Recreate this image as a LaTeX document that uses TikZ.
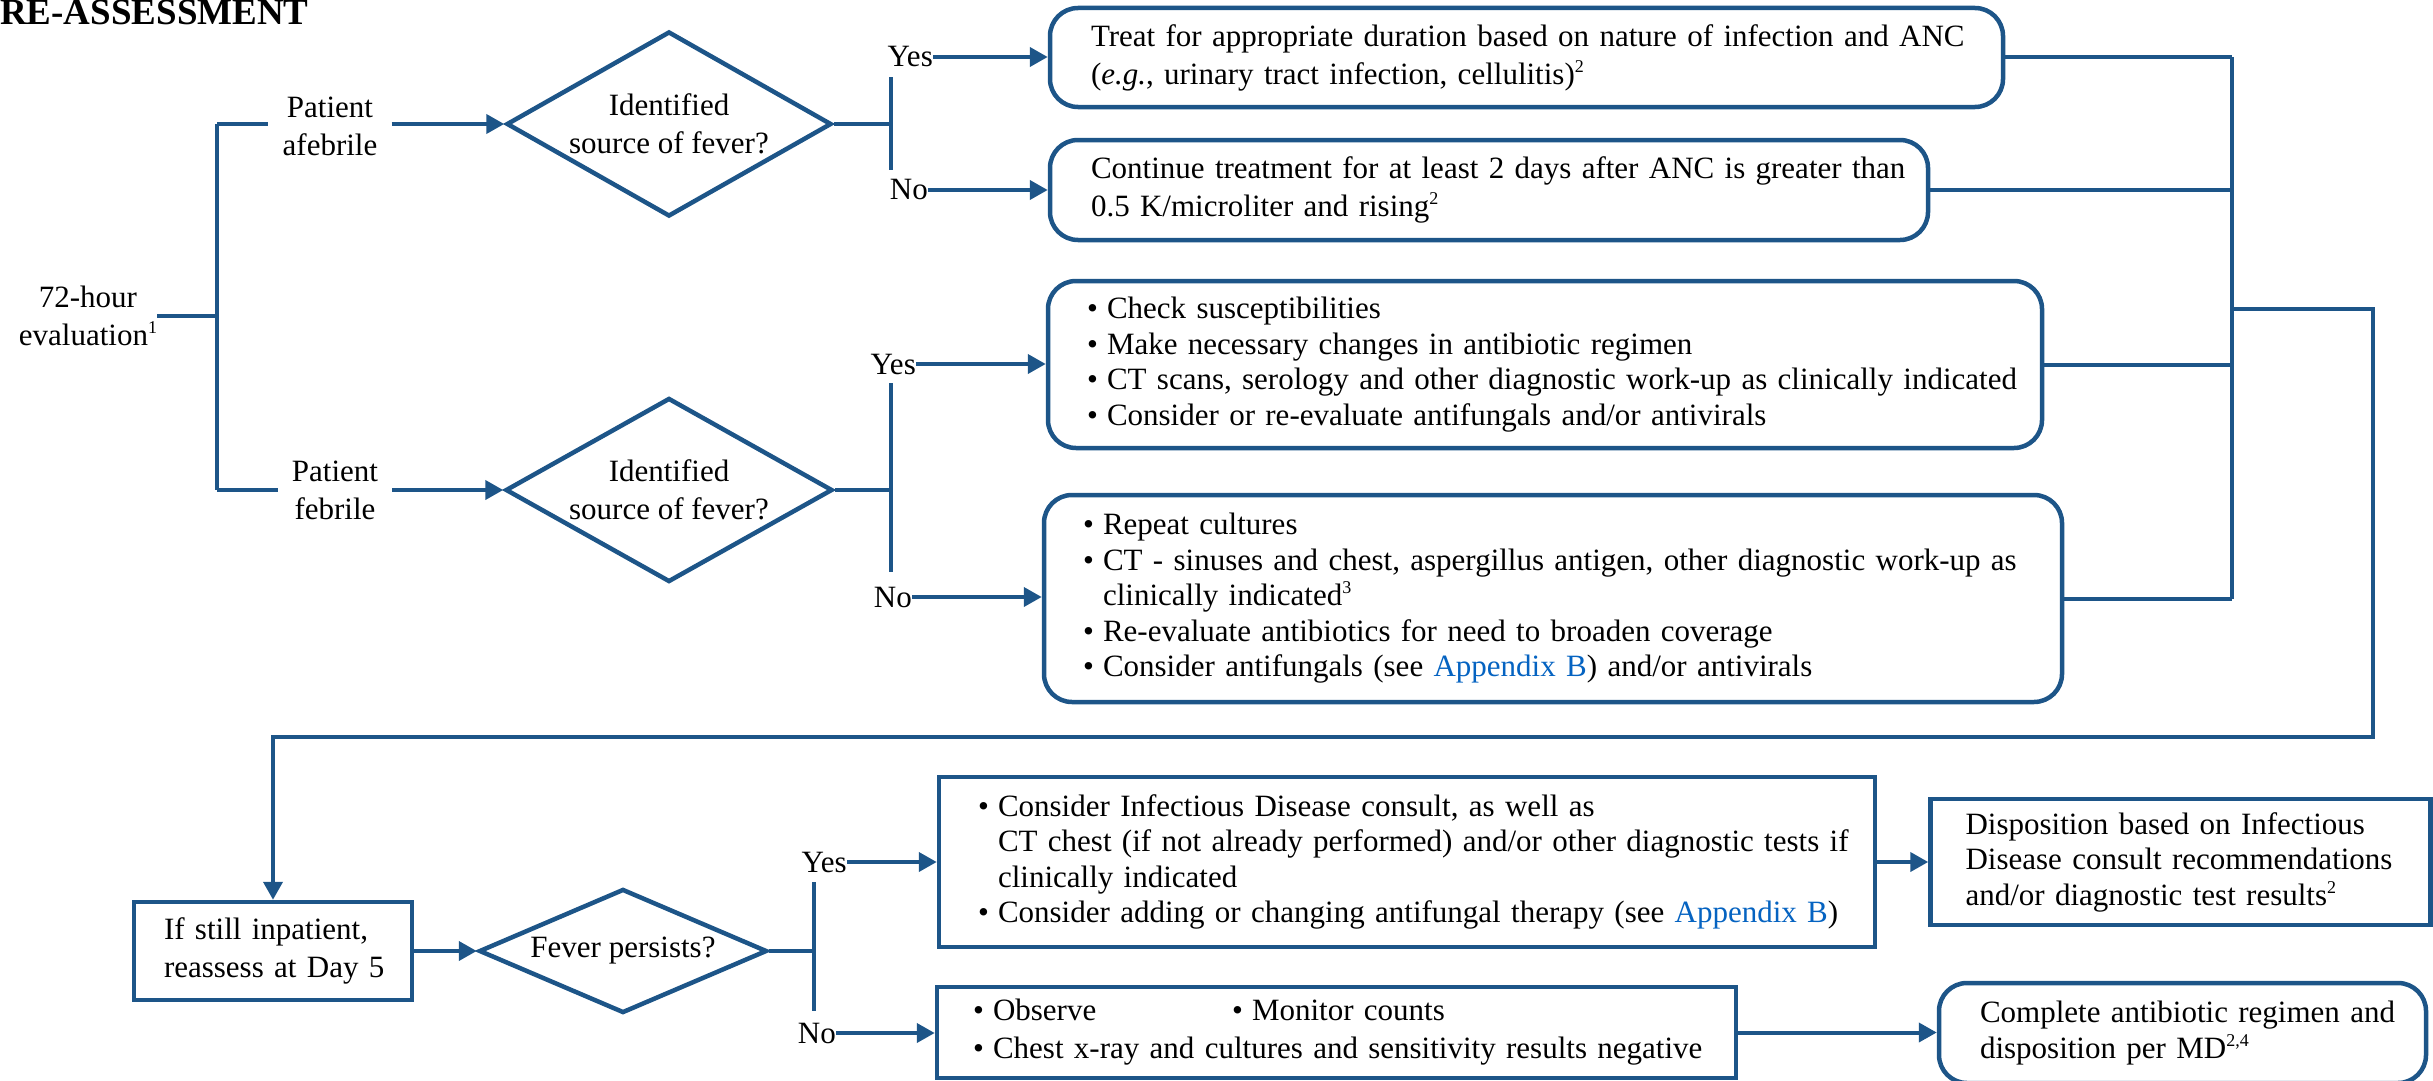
\documentclass[tikz,border=0pt]{standalone}
\usepackage{fontspec}
\setmainfont{Liberation Serif}
\usetikzlibrary{arrows.meta,positioning,shapes.geometric}
\definecolor{FlowBlue}{HTML}{1D5588}
\definecolor{LinkBlue}{HTML}{0563C1}
\newcommand{\bodyfont}{\fontsize{31}{38}\selectfont}
\newcommand{\listfont}{\fontsize{31}{35.5}\selectfont}
\newcommand{\bul}{\makebox[20pt][l]{\textbullet}}
\newcommand{\indnt}{\hspace*{20pt}}
\newcommand{\appx}{{\color{LinkBlue}Appendix B}}
\newcommand{\note}[1]{\raisebox{12pt}{\fontsize{18}{18}\selectfont #1}}

\begin{document}
\begin{tikzpicture}[x=1pt,y=-1pt,
  wire/.style={draw=FlowBlue,line width=4pt},
  arr/.style={wire,-{Triangle[length=18pt,width=19pt]}},
  roundcard/.style={draw=FlowBlue,line width=4.5pt,rounded corners=28pt,inner xsep=0pt,inner ysep=0pt,align=left,font=\bodyfont},
  sqcard/.style={roundcard,sharp corners},
  lskip/.style={execute at begin node={\leftskip=#1\relax}},
  decide/.style={diamond,draw=FlowBlue,line width=4.5pt,inner sep=0pt,align=center,font=\bodyfont},
  yn/.style={inner sep=0pt,font=\bodyfont},
  patient/.style={inner xsep=14pt,inner ysep=0pt,align=center,font=\bodyfont}]
\useasboundingbox (0,0) rectangle (2433,1081);

% title
\node[anchor=base west,inner sep=0pt,font=\fontsize{37}{40}\selectfont\bfseries] (title) at (0,25) {RE-ASSESSMENT};

% 72-hour split
\node[yn,align=center] (eval) at (88,316) {72-hour\\evaluation\note{1}};
\coordinate (split) at (217,316);
\coordinate (splitT) at (217,124);
\coordinate (splitB) at (217,490);
\node[patient] (afeb) at (330,126) {Patient\\afebrile};
\node[patient] (feb) at (335,490) {Patient\\febrile};
\node[decide,minimum width=325pt,minimum height=185pt,aspect=1.75] (src1) at (669,124) {Identified\\source of fever?};
\node[decide,minimum width=327pt,minimum height=184pt,aspect=1.75] (src2) at (669,490) {Identified\\source of fever?};

\draw[wire] (eval.east) -- (split);
\draw[wire] (splitT) -- (splitB);
\draw[wire] (splitT) -- (splitT -| afeb.west);
\draw[arr] (afeb.east |- splitT) -- (src1.west);
\draw[wire] (splitB) -- (feb.west);
\draw[arr] (feb.east) -- (src2.west);

% afebrile branch
\coordinate (j1) at (891,124);
\coordinate (j1t) at (891,77);
\coordinate (j1b) at (891,170);
\node[yn,anchor=east] (yes1) at (933,57) {Yes};
\node[yn,anchor=east] (no1) at (928,190) {No};
\node[roundcard,minimum width=953pt,minimum height=99pt,text width=937pt,lskip=33pt] (treat) at (1526.5,57.5)
  {Treat for appropriate duration based on nature of infection and ANC\\(\textit{e.g.}, urinary tract infection, cellulitis)\note{2}};
\node[roundcard,minimum width=878pt,minimum height=100pt,text width=862pt,lskip=33pt] (cont) at (1489,190)
  {Continue treatment for at least 2 days after ANC is greater than\\0.5 K/microliter and rising\note{2}};
\draw[wire] (src1.east) -- (j1);
\draw[wire] (j1t) -- (j1b);
\draw[arr] (yes1.east) -- (yes1.east -| treat.west);
\draw[arr] (no1.east) -- (no1.east -| cont.west);

% febrile branch
\coordinate (j2) at (891,490);
\coordinate (j2t) at (891,383);
\coordinate (j2b) at (891,572);
\node[yn,anchor=east] (yes2) at (916,364) {Yes};
\node[yn,anchor=east] (no2) at (912,597) {No};
\node[roundcard,font=\listfont,minimum width=994pt,minimum height=167pt,text width=978pt,lskip=31pt] (known) at (1545,364.5)
  {\bul Check susceptibilities\\
   \bul Make necessary changes in antibiotic regimen\\
   \bul CT scans, serology and other diagnostic work-up as clinically indicated\\
   \bul Consider or re-evaluate antifungals and/or antivirals};
\node[roundcard,font=\listfont,minimum width=1018pt,minimum height=207pt,text width=1002pt,lskip=31pt] (unknown) at (1553,598.5)
  {\bul Repeat cultures\\
   \bul CT - sinuses and chest, aspergillus antigen, other diagnostic work-up as\\
   \indnt clinically indicated\note{3}\\
   \bul Re-evaluate antibiotics for need to broaden coverage\\
   \bul Consider antifungals (see \appx) and/or antivirals};
\draw[wire] (src2.east) -- (j2);
\draw[wire] (j2t) -- (j2b);
\draw[arr] (yes2.east) -- (yes2.east -| known.west);
\draw[arr] (no2.east) -- (no2.east -| unknown.west);

% collector and loop back
\coordinate (cx) at (2232,0);
\coordinate (loopA) at (2232,309);
\coordinate (loopB) at (2373,309);
\coordinate (loopC) at (2373,737);
\coordinate (loopD) at (273,737);
\foreach \b in {treat,cont,known,unknown}
  \draw[wire] (\b.east) -- (\b.east -| cx);
\draw[wire] (treat.east -| cx) -- (unknown.east -| cx);

% day 5
\node[sqcard,minimum width=278pt,minimum height=98pt,text width=262pt,lskip=22pt] (recheck) at (273,951)
  {If still inpatient,\\reassess at Day 5};
\draw[arr] (loopA) -- (loopB) -- (loopC) -- (loopD) -- (recheck.north);
\node[decide,minimum width=288pt,minimum height=124pt,aspect=2.3] (persist) at (623,951) {Fever persists?};
\draw[arr] (recheck) -- (persist);
\coordinate (j3) at (814,951);
\coordinate (j3t) at (814,882);
\coordinate (j3b) at (814,1011);
\node[yn,anchor=east] (yes3) at (847,862) {Yes};
\node[yn,anchor=east] (no3) at (836,1033) {No};
\node[sqcard,font=\listfont,minimum width=936pt,minimum height=170pt,text width=920pt,lskip=31pt] (idc) at (1407,862)
  {\bul Consider Infectious Disease consult, as well as\\
   \indnt CT chest (if not already performed) and/or other diagnostic tests if\\
   \indnt clinically indicated\\
   \bul Consider adding or changing antifungal therapy (see \appx)};
\node[sqcard,font=\listfont,minimum width=500pt,minimum height=126pt,text width=484pt,lskip=27pt,right=51pt of idc] (dispo)
  {Disposition based on Infectious\\Disease consult recommendations\\and/or diagnostic test results\note{2}};
\node[sqcard,minimum width=799pt,minimum height=91pt,text width=783pt,lskip=28pt] (obs) at (1336.5,1032.5)
  {\makebox[259pt][l]{\bul Observe}\bul Monitor counts\\
   \bul Chest x-ray and cultures and sensitivity results negative};
\node[roundcard,font=\listfont,minimum width=487pt,minimum height=100pt,text width=471pt,lskip=33pt] (finish) at (2182.5,1033)
  {Complete antibiotic regimen and\\disposition per MD\note{2,4}};
\draw[wire] (persist.east) -- (j3);
\draw[wire] (j3t) -- (j3b);
\draw[arr] (yes3.east) -- (yes3.east -| idc.west);
\draw[arr] (no3.east) -- (no3.east -| obs.west);
\draw[arr] (idc) -- (dispo);
\draw[arr] (obs.east) -- (obs.east -| finish.west);
\end{tikzpicture}
\end{document}
